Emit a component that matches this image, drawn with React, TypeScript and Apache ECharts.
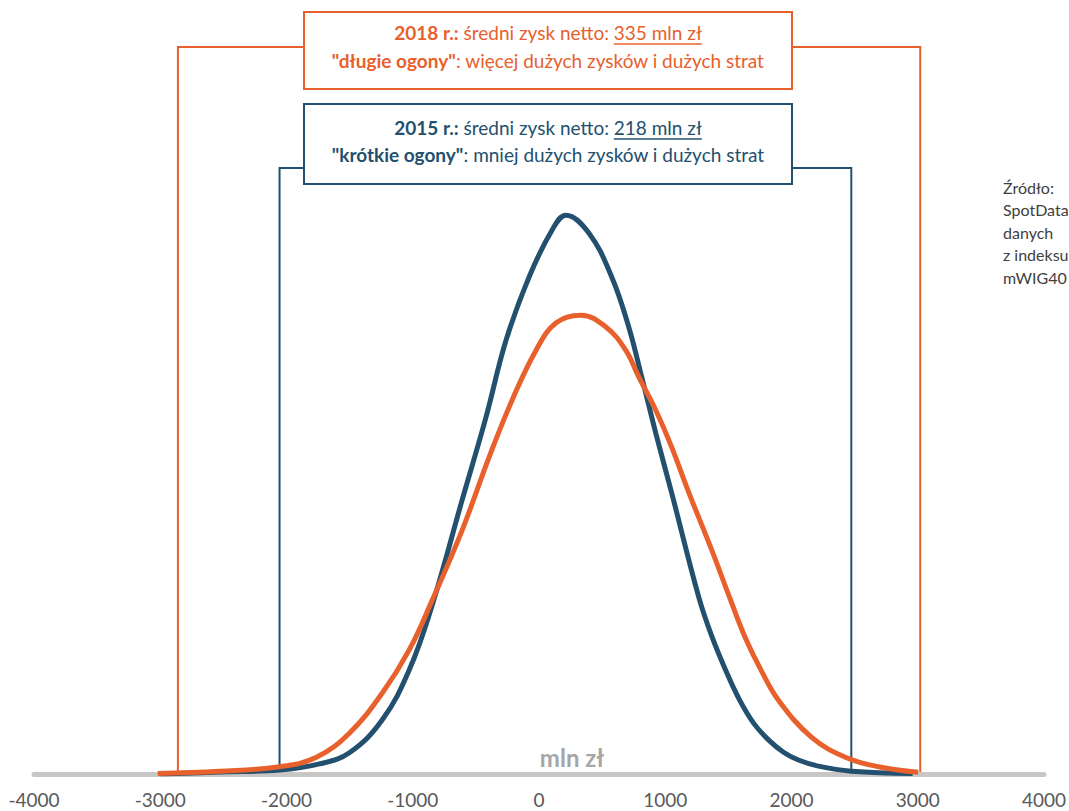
import React, { useEffect, useRef } from "react";
import * as echarts from "echarts";

// ---- data ----
const xMin = -4000;
const xMax = 4000;
const xStep = 1000;

// 2015 density curve (x: mln zł, y: relative frequency, peak = 100)
const x2015 = [-3000, -2530, -2055, -1739, -1502, -1241, -1028, -846, -609, -419, -261, -79, 103, 213, 395, 577, 711, 814, 925, 1051, 1265, 1368, 1478, 1581, 1700, 1818, 1937, 2055, 2213, 2474, 2960];
const y2015 = [0, 0.36, 0.7, 1.8, 3.8, 9.7, 18.6, 30.2, 49.0, 63.9, 77.6, 88.9, 97.3, 100, 96.8, 88.9, 80.0, 71.0, 61.0, 50.3, 31.7, 24.7, 18.6, 13.6, 9.1, 6.1, 3.9, 2.5, 1.4, 0.5, 0.1];

// 2018 density curve
const x2018 = [-3020, -2530, -2055, -1763, -1502, -1241, -1028, -846, -609, -395, -213, -24, 134, 332, 530, 688, 791, 925, 1051, 1186, 1368, 1518, 1636, 1763, 1897, 2158, 2427, 2688, 3004];
const y2018 = [0.1, 0.5, 1.3, 3.0, 7.3, 14.5, 22.2, 31.1, 43.6, 56.7, 66.9, 75.8, 80.7, 82.1, 80.0, 75.8, 71.0, 65.1, 58.5, 50.4, 40.1, 31.1, 24.3, 18.4, 13.2, 6.6, 3.0, 1.3, 0.3];

// bracket ends (mln zł)
const bracket2018 = [-2860, 3020];
const bracket2015 = [-2055, 2474];

const label2018 = ["2018 r.:", " średni zysk netto: ", "335 mln zł"];
const tail2018 = ["\"długie ogony\"", ": więcej dużych zysków i dużych strat"];
const label2015 = ["2015 r.:", " średni zysk netto: ", "218 mln zł"];
const tail2015 = ["\"krótkie ogony\"", ": mniej dużych zysków i dużych strat"];
const sourceLines = ["Źródło:", "SpotData", "danych", "z indeksu", "mWIG40"];
const axisUnit = "mln zł";

const ORANGE = "#E8602C";
const BLUE = "#22506E";
const FONT = "Lato, 'Open Sans', sans-serif";
const BOX_FS = 19;

function zip(xs: number[], ys: number[]) {
  return xs.map((x, i) => [x, ys[i]]);
}

export default function App() {
  const ref = useRef<HTMLDivElement>(null);

  useEffect(() => {
    if (!ref.current) return;
    const chart = echarts.init(ref.current, null, { renderer: "svg" });
    chart.setOption({
      animation: false,
      grid: { left: 34, right: 23, top: 0, bottom: 37 },
      xAxis: {
        type: "value",
        min: xMin,
        max: xMax,
        interval: xStep,
        axisLine: { show: true, onZero: false, lineStyle: { color: "#C9C7C5", width: 5 } },
        axisTick: { show: false },
        splitLine: { show: false },
        axisLabel: {
          fontSize: 19,
          color: "#595959",
          fontFamily: FONT,
          margin: 16,
          formatter: (v: number) => String(v),
        },
      },
      yAxis: { type: "value", min: 0, max: 138.5, show: false },
      series: [
        {
          name: "2015",
          type: "line",
          data: zip(x2015, y2015),
          smooth: 0.4,
          symbol: "none",
          lineStyle: { color: BLUE, width: 5 },
          z: 3,
        },
        {
          name: "2018",
          type: "line",
          data: zip(x2018, y2018),
          smooth: 0.4,
          symbol: "none",
          lineStyle: { color: ORANGE, width: 5 },
          z: 4,
        },
      ],
    });

    const canvas = document.createElement("canvas");
    const ctx = canvas.getContext("2d")!;
    const measure = (t: string, f: string) => {
      ctx.font = f;
      return ctx.measureText(t).width;
    };
    const boldF = `bold ${BOX_FS}px Lato`;
    const normF = `${BOX_FS}px Lato`;

    const px = (v: number) => chart.convertToPixel({ xAxisIndex: 0 }, v) as number;
    const baseY = chart.convertToPixel({ yAxisIndex: 0 }, 0) as number;

    const boxL = 304;
    const boxR = 792;
    const cx = (boxL + boxR) / 2;

    const makeBox = (
      color: string,
      top: number,
      bottom: number,
      bracketY: number,
      ends: number[],
      l1: string[],
      l2: string[],
      y1: number,
      y2: number
    ) => {
      const rich = {
        b: { fontFamily: FONT, fontSize: BOX_FS, fontWeight: "bold", fill: color },
        n: { fontFamily: FONT, fontSize: BOX_FS, fill: color },
      };
      const wB = measure(l1[0], boldF);
      const wN1 = measure(l1[1], normF);
      const wN2 = measure(l1[2], normF);
      const total = wB + wN1 + wN2;
      const ulStart = cx - total / 2 + wB + wN1;
      const ulEnd = cx + total / 2;
      const xl = px(ends[0]);
      const xr = px(ends[1]);
      const ls = { stroke: color, lineWidth: 2 };
      return [
        { type: "polyline", z: 0, shape: { points: [[xl, baseY], [xl, bracketY], [boxL, bracketY]] }, style: { ...ls, fill: null } },
        { type: "polyline", z: 0, shape: { points: [[boxR, bracketY], [xr, bracketY], [xr, baseY]] }, style: { ...ls, fill: null } },
        { type: "rect", z: 1, shape: { x: boxL, y: top, width: boxR - boxL, height: bottom - top }, style: { ...ls, fill: "#fff" } },
        {
          type: "text",
          z: 2,
          x: cx,
          y: y1,
          style: {
            text: `{b|${l1[0]}}{n|${l1[1]}}{n|${l1[2]}}`,
            rich,
            align: "center",
            verticalAlign: "middle",
            textAlign: "center",
            textVerticalAlign: "middle",
          },
        },
        { type: "line", z: 2, shape: { x1: ulStart, y1: y1 + 12, x2: ulEnd, y2: y1 + 12 }, style: { stroke: color, lineWidth: 1.5 } },
        {
          type: "text",
          z: 2,
          x: cx,
          y: y2,
          style: {
            text: `{b|${l2[0]}}{n|${l2[1]}}`,
            rich,
            align: "center",
            verticalAlign: "middle",
            textAlign: "center",
            textVerticalAlign: "middle",
          },
        },
      ];
    };

    const elements: any[] = [
      ...makeBox(ORANGE, 12, 89, 47, bracket2018, label2018, tail2018, 32, 60),
      ...makeBox(BLUE, 104, 184, 168, bracket2015, label2015, tail2015, 127, 154),
      {
        type: "text",
        z: 2,
        x: 1003,
        y: 176,
        style: {
          text: sourceLines.join("\n"),
          font: `16px ${FONT}`,
          fontSize: 16,
          fontFamily: FONT,
          lineHeight: 22.5,
          fill: "#404040",
        },
      },
      {
        type: "text",
        z: 2,
        x: 572,
        y: 757,
        style: {
          text: axisUnit,
          font: `bold 24px ${FONT}`,
          fontSize: 24,
          fontWeight: "bold",
          fontFamily: FONT,
          fill: "#A6A6A6",
          align: "center",
          verticalAlign: "middle",
          textAlign: "center",
          textVerticalAlign: "middle",
        },
      },
    ];

    chart.setOption({ graphic: { elements } });

    return () => chart.dispose();
  }, []);

  return (
    <div
      ref={ref}
      style={{ position: "absolute", left: 0, top: 0, width: 1069, height: 811, background: "#fff" }}
    />
  );
}
